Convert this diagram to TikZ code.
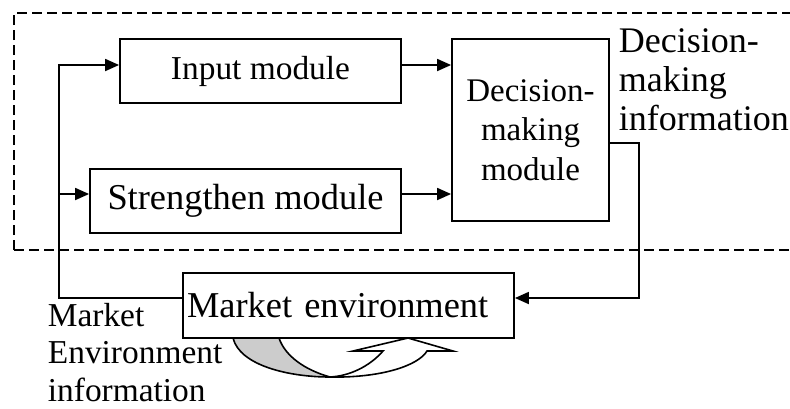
\documentclass[tikz,border=0pt]{standalone}
\usepackage{fontspec}
\setmainfont{Liberation Serif}
\usetikzlibrary{positioning, arrows.meta}

\begin{document}
\begin{tikzpicture}[
    x=0.5pt, y=-0.5pt,
    line width=0.9pt,
    module/.style={draw, rectangle, inner sep=0pt, font=\fontsize{16.7}{19.7}\selectfont},
    bigtext/.style={font=\fontsize{18.2}{19.7}\selectfont},
    infotext/.style={inner sep=0pt, align=left, anchor=north west},
    frame/.style={dash pattern=on 5pt off 2.5pt},
    >={Triangle[length=7pt, width=6pt]}
]
\useasboundingbox (0,0) rectangle (790,408);

% --- dashed frame ---
\draw[frame] (14,250) -- (14,13) -- (800,13);
\draw[frame] (14,250) -- (800,250);

% --- modules ---
\node[module, minimum width=140.5pt, minimum height=32pt] (input) at (260.5,71) {Input module};
\node[module, bigtext, minimum width=155.5pt, minimum height=32pt] (strengthen) at (245.5,201) {Strengthen module};
\node[module, align=center, font=\fontsize{16.5}{19.7}\selectfont, minimum width=78.5pt, minimum height=91pt] (decision) at (530.5,130) {Decision-\\making\\module};
\node[module, bigtext, inner xsep=2pt, text width=161.5pt, align=left, minimum height=32.5pt] (market) at (348.5,305.5) {Market environment};

% --- information texts ---
\node[infotext, font=\fontsize{18}{19.5}\selectfont] (dminfo) at (618,28) {Decision-\\making\\information};
\node[infotext, font=\fontsize{16.7}{18.8}\selectfont] (meinfo) at (47,302) {Market\\Environment\\information};

% --- connectors ---
\coordinate (upper) at (59,65);
\coordinate (split) at (59,194);
\coordinate (lower) at (59,298);
\coordinate (turn) at (639,298);

\draw[->] ([yshift=3pt]input.east) -- ([yshift=3pt]input.east -| decision.west);
\draw[->] ([yshift=3.5pt]strengthen.east) -- ([yshift=3.5pt]strengthen.east -| decision.west);
\draw[->] ([yshift=3.75pt]market.west) -- (lower) -- (upper) -- ([yshift=3pt]input.west);
\draw[->] (split) -- ([yshift=3.5pt]strengthen.west);
\draw[->] ([yshift=-6.5pt]decision.east) -| (turn) -- ([yshift=3.75pt]market.east);

% --- market cycle arrow ---
\filldraw[line width=0.8pt, fill=gray!40] (233,338) .. controls (240,366) and (290,377) .. (330,377)
    .. controls (305,370) and (285,356) .. (279,338) -- cycle;
\filldraw[line width=0.8pt, fill=white] (330,377) .. controls (380,378) and (418,366) .. (427,351)
    -- (453,351) -- (408,338) -- (353,351) -- (383,351)
    .. controls (370,366) and (350,376) .. (330,377) -- cycle;

\end{tikzpicture}
\end{document}
